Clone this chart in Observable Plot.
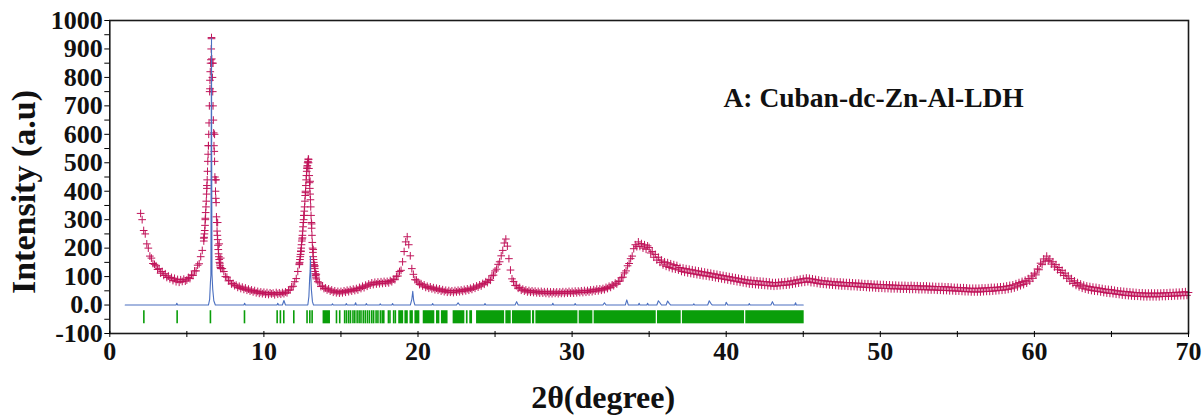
<!DOCTYPE html>
<html>
<head>
<meta charset="utf-8">
<script src="https://cdn.jsdelivr.net/npm/d3@7"></script>
<script src="https://cdn.jsdelivr.net/npm/@observablehq/plot@0.6"></script>
<style>
  html, body { margin: 0; padding: 0; background: #fff; }
  #chart svg text { font-family: "Liberation Serif", "Times New Roman", serif; font-weight: bold; fill: #111; }
  #chart g[aria-label="y-axis tick label"], #chart g[aria-label="x-axis tick label"] { font-size: 26px; }
</style>
</head>
<body>
<div id="chart"></div>
<script>
// ---- Observed pattern (red +), 2θ from 2.0 to 70.0 in steps of 0.1 ----
const obsStart = 2.0;
const obsStep = 0.1;
const obsIntensity = [
  322,300,262,250,215,200,172,165,146,143,
  138,125,128,112,118,104,110,97,102,92,
  97,86,94,82,90,80,89,83,91,84,
  88,97,93,106,104,120,120,140,145,170,
  192,235,305,410,560,760,936,850,600,440,
  290,215,165,128,118,100,98,85,86,74,
  76,68,70,62,66,58,63,55,60,52,
  56,49,53,46,51,43,48,41,46,40,
  45,38,44,37,43,39,42,36,44,38,
  43,38,44,40,46,43,52,53,64,66,
  82,93,118,142,190,236,315,395,485,512,
  435,285,195,138,108,82,78,65,67,58,
  60,53,57,49,53,45,50,43,48,42,
  48,43,50,45,52,47,54,49,56,51,
  58,53,62,58,66,61,70,66,74,70,
  78,72,80,74,81,75,82,76,83,77,
  83,78,86,82,91,89,101,102,118,122,
  152,188,222,240,212,173,128,108,89,88,
  81,72,75,67,71,62,66,59,64,57,
  61,54,59,52,57,49,54,47,52,45,
  51,45,50,44,51,46,52,47,53,48,
  55,50,57,52,59,55,63,59,67,63,
  71,67,76,73,82,79,89,87,103,105,
  120,126,143,152,173,192,218,232,207,163,
  123,92,83,69,68,59,62,52,56,49,
  53,46,51,45,50,44,49,43,48,42,
  48,42,47,41,47,40,46,40,46,41,
  46,40,46,41,47,41,47,42,48,42,
  48,42,49,43,49,44,50,44,51,45,
  51,46,53,47,54,49,56,50,57,52,
  58,54,62,58,66,62,71,68,77,74,
  83,84,96,98,113,120,138,146,163,172,
  198,212,205,222,206,216,200,212,196,208,
  202,183,188,168,178,158,168,150,158,141,
  152,136,149,132,145,128,142,126,139,123,
  132,118,130,115,128,113,126,111,124,109,
  122,107,120,105,118,103,116,102,114,100,
  112,98,110,96,108,94,106,92,104,90,
  102,88,100,86,98,84,96,82,94,80,
  92,78,90,76,88,74,87,73,86,72,
  85,71,84,70,83,69,82,68,81,67,
  79,66,79,67,80,68,81,69,82,70,
  83,71,85,73,87,75,89,77,91,79,
  93,80,95,82,94,79,92,78,90,76,
  88,74,86,73,85,72,84,71,83,70,
  82,69,81,68,81,67,80,67,79,66,
  79,65,78,65,77,64,77,63,76,63,
  75,62,75,61,74,61,73,60,73,59,
  72,59,72,58,71,58,71,57,70,57,
  70,57,69,56,69,56,69,56,68,55,
  69,55,68,55,68,54,67,54,67,54,
  67,53,66,53,66,53,65,52,65,52,
  65,51,64,51,64,50,63,50,62,49,
  62,49,61,48,61,47,60,47,59,46,
  59,46,59,46,59,46,60,47,60,48,
  61,48,62,49,62,50,63,51,64,52,
  65,53,67,55,69,57,71,60,75,64,
  79,68,83,72,87,77,93,84,102,94,
  112,106,127,124,147,142,162,154,172,156,
  162,144,152,134,142,124,132,114,122,104,
  112,94,102,84,93,76,85,69,79,64,
  74,59,70,56,67,53,65,51,63,49,
  62,48,60,46,58,44,56,42,55,41,
  54,40,52,38,50,37,49,35,48,34,
  47,33,46,32,45,31,44,31,43,30,
  43,29,42,29,42,29,42,29,42,29,
  42,29,42,30,43,30,43,31,44,31,
  44,32,45,32,45,33,46,33,47,34,
  44
];

// ---- Extra observed points on the two sharp peaks (step 0.02) ----
const denseStep = 0.02;
const peak1Start = 6.10;
const peak1Intensity = [
  225,238,250,262,280,300,325,345,365,390,
  420,440,470,505,530,560,600,640,700,750,
  790,820,850,862,900,940,865,850,800,750,
  700,650,605,560,540,505,450,440,400,375,
  360,310,290,260,245,230,210,195,180,170,
  160,150,145,138,132,128
];
const peak2Start = 12.30;
const peak2Intensity = [
  145,150,160,170,178,188,200,212,225,232,
  245,260,275,290,300,315,330,345,365,385,
  400,420,440,455,470,480,490,500,505,513,
  500,480,455,430,410,390,370,345,315,290,
  270,245,220,200,185,170,160,150,142,135,
  128,118,110,104,98,92
];

// ---- Calculated pattern (blue line) ----
const calc2Theta = [
  1.0,4.3,4.35,4.4,6.40,6.48,6.53,6.56,6.58,6.60,6.61,6.63,6.68,6.75,6.85,
  8.7,8.75,8.8,10.85,10.9,10.95,11.2,11.3,11.4,
  12.85,12.92,12.97,13.00,13.02,13.04,13.08,13.15,13.22,
  14.4,14.45,14.5,15.3,15.35,15.4,15.9,15.95,16.0,16.6,16.65,16.7,17.5,17.55,17.6,
  18.3,18.35,18.4,19.5,19.6,19.66,19.72,19.8,20.9,20.95,21.0,22.5,22.6,22.7,
  24.3,24.35,24.4,26.3,26.4,26.5,28.7,28.75,28.8,30.15,30.2,30.25,32.0,32.1,32.2,
  33.45,33.55,33.65,34.3,34.35,34.4,34.85,34.9,34.95,35.5,35.6,35.7,35.8,
  36.1,36.2,36.3,36.4,37.85,37.9,37.95,38.8,38.9,39.0,39.1,39.95,40.0,40.1,
  41.45,41.5,41.55,42.9,43.0,43.1,44.45,44.5,44.55,45.0
];
const calcIntensity = [
  0,0,6,0,0,20,80,105,560,938,560,110,55,15,0,
  0,6,0,0,6,0,0,16,0,
  0,30,95,120,171,110,55,12,0,
  0,4,0,0,5,0,0,8,0,0,5,0,0,4,0,
  0,5,0,0,20,48,15,0,0,5,0,0,8,0,
  0,5,0,0,12,0,0,6,0,0,5,0,0,8,0,
  0,18,0,0,6,0,0,6,0,0,15,8,0,
  0,14,6,0,0,4,0,0,15,6,0,0,10,0,
  0,5,0,0,12,0,0,8,0,0
];

// ---- Bragg reflection positions (green) ----
const braggLines = [
  2.21,4.37,6.53,8.74,10.86,11.07,11.29,11.94,12.80,12.98,13.13,14.71,14.92,
  15.24,15.36,15.50,15.62,15.78,15.90,16.05,16.18,16.30,16.45,16.58,16.72,16.85,
  17.00,17.12,17.28,17.40,17.56,17.68,17.78,18.08,18.18,18.42,18.53
];
const braggBlockStart = [13.84,18.75,19.15,19.48,19.80,20.34,21.20,21.52,22.28,23.14,23.36,23.80,25.70,26.13,27.43,27.65,30.46,31.43,35.54,37.16,41.27];
const braggBlockEnd   = [14.32,19.07,19.37,19.70,20.12,21.09,21.42,21.95,23.04,23.25,23.54,25.62,26.05,27.35,27.57,30.38,31.35,35.46,37.08,41.19,45.06];

// ---- Axes ----
const xTickMarks = [0,5,10,15,20,25,30,35,40,45,50,55,60,65,70];
const xTickLabels = [0,10,20,30,40,50,60,70];
const yTickMarks = [-100,-50,0,50,100,150,200,250,300,350,400,450,500,550,600,650,700,750,800,850,900,950,1000];
const yTickLabels = {"-100":"-100","0":"0.0","100":"100","200":"200","300":"300","400":"400","500":"500","600":"600","700":"700","800":"800","900":"900","1000":"1000"};

const xTitle = "2θ(degree)";
const yTitle = "Intensity (a.u)";
const sampleLabel = "A: Cuban-dc-Zn-Al-LDH";

const braggLow = -66, braggHigh = -20;

// ---- Build tables ----
const obs = [
  ...obsIntensity.map((v, i) => ({x: +(obsStart + i * obsStep).toFixed(3), y: v})),
  ...peak1Intensity.map((v, i) => ({x: +(peak1Start + i * denseStep).toFixed(3), y: v})),
  ...peak2Intensity.map((v, i) => ({x: +(peak2Start + i * denseStep).toFixed(3), y: v}))
];
const calc = calc2Theta.map((x, i) => ({x, y: calcIntensity[i]}));
const blocks = braggBlockStart.map((s, i) => ({x1: s, x2: braggBlockEnd[i]}));

const red = "#c0145a", blue = "#4a6fc0", green = "#0a9e0a";

const chart = Plot.plot({
  width: 1204,
  height: 415,
  marginLeft: 109.3,
  marginRight: 16,
  marginTop: 20,
  marginBottom: 82,
  x: {domain: [0, 70]},
  y: {domain: [-100, 1000]},
  style: {background: "#fff", overflow: "visible"},
  marks: [
    Plot.rect(blocks, {x1: "x1", x2: "x2", y1: braggLow, y2: braggHigh, fill: green}),
    Plot.ruleX(braggLines, {y1: braggLow, y2: braggHigh, stroke: green, strokeWidth: 1.6}),
    Plot.dot(obs, {x: "x", y: "y", symbol: "plus", r: 2.6, stroke: red, strokeWidth: 1.0}),
    Plot.line(calc, {x: "x", y: "y", stroke: blue, strokeWidth: 1.1}),
    Plot.frame({stroke: "#1a1a1a", strokeWidth: 1.6}),
    Plot.axisY({ticks: yTickMarks, tickSize: 5, tickPadding: 2, label: null,
      tickFormat: d => yTickLabels[String(d)] ?? ""}),
    Plot.axisX({ticks: xTickMarks, tickSize: 6, dy: -2, label: null, tickFormat: () => ""}),
    Plot.axisX({ticks: xTickLabels, tickSize: 0, tickPadding: 8, label: null}),
    Plot.text([xTitle], {frameAnchor: "bottom", textAnchor: "middle", lineAnchor: "middle", dx: -46, dy: 64, fontSize: 32, text: d => d}),
    Plot.text([yTitle], {frameAnchor: "left", textAnchor: "middle", lineAnchor: "middle", rotate: -90, dx: -86, dy: 15, fontSize: 34, text: d => d}),
    Plot.text([sampleLabel], {frameAnchor: "top-left", textAnchor: "start", lineAnchor: "top", dx: 613.7, dy: 67, fontSize: 27.5, text: d => d})
  ]
});
document.getElementById("chart").appendChild(chart);
</script>
</body>
</html>
